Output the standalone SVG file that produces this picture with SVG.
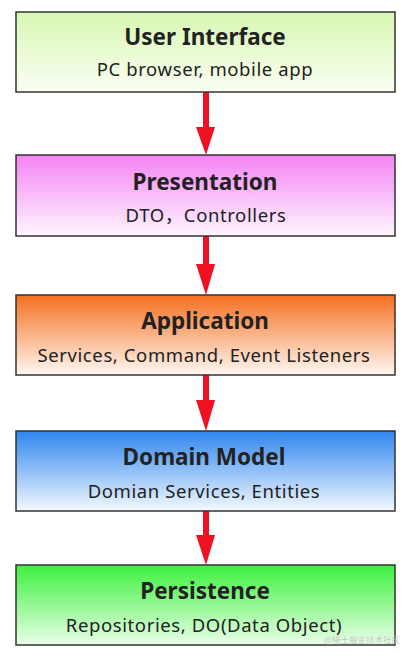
<svg xmlns="http://www.w3.org/2000/svg" width="413" height="656" viewBox="0 0 413 656">
<defs>
<linearGradient id="g1" x1="0" y1="0" x2="0" y2="1"><stop offset="0" stop-color="#d9f7b3"/><stop offset="1" stop-color="#f9fff2"/></linearGradient>
<linearGradient id="g2" x1="0" y1="0" x2="0" y2="1"><stop offset="0" stop-color="#f384f3"/><stop offset="1" stop-color="#fff6ff"/></linearGradient>
<linearGradient id="g3" x1="0" y1="0" x2="0" y2="1"><stop offset="0" stop-color="#f46f1f"/><stop offset="1" stop-color="#fff8f2"/></linearGradient>
<linearGradient id="g4" x1="0" y1="0" x2="0" y2="1"><stop offset="0" stop-color="#2f86ee"/><stop offset="1" stop-color="#f4f9ff"/></linearGradient>
<linearGradient id="g5" x1="0" y1="0" x2="0" y2="1"><stop offset="0" stop-color="#3ef03e"/><stop offset="1" stop-color="#eaffea"/></linearGradient>
</defs>
<style>
.box{stroke:#333;stroke-width:1.5}
.t{font-family:"Noto Sans","Liberation Sans",sans-serif;font-weight:bold;font-size:22.5px;fill:#222;text-anchor:middle}
.s{font-family:"Noto Sans","Noto Sans CJK SC","Liberation Sans",sans-serif;font-size:18.5px;letter-spacing:0.6px;fill:#222;text-anchor:middle}
.arr{fill:#ee1122}
.wm{font-family:"Noto Sans CJK SC","Noto Sans",sans-serif;font-size:8.5px;fill:#c8c8c8}
</style>
<rect width="413" height="656" fill="#fff"/>
<g id="connectors">
<path class="arr" d="M203 92H209V127H215L206 155L196 127H203Z"/>
<path class="arr" d="M203 236H209V264H215L206 295L196 264H203Z"/>
<path class="arr" d="M203 375H209V400H215L206 431L196 400H203Z"/>
<path class="arr" d="M203 511H209V535H215L206 565L196 535H203Z"/>
</g>
<g id="user-interface">
<rect class="box" x="16" y="12" width="379" height="80" fill="url(#g1)"/>
<text class="t" x="205" y="45">User Interface</text>
<text class="s" x="205" y="76">PC browser, mobile app</text>
</g>
<g id="presentation">
<rect class="box" x="16" y="155" width="379" height="81" fill="url(#g2)"/>
<text class="t" x="205" y="190">Presentation</text>
<text class="s" x="206" y="222">DTO<tspan font-family="Noto Sans CJK SC">，</tspan>Controllers</text>
</g>
<g id="application">
<rect class="box" x="16" y="295" width="379" height="80" fill="url(#g3)"/>
<text class="t" x="205" y="329">Application</text>
<text class="s" x="204" y="362">Services, Command, Event Listeners</text>
</g>
<g id="domain-model">
<rect class="box" x="16" y="431" width="379" height="80" fill="url(#g4)"/>
<text class="t" x="204" y="465">Domain Model</text>
<text class="s" x="204" y="498">Domian Services, Entities</text>
</g>
<g id="persistence">
<rect class="box" x="16" y="565" width="379" height="80" fill="url(#g5)"/>
<text class="t" x="205" y="599">Persistence</text>
<text class="s" x="204" y="632">Repositories, DO(Data Object)</text>
</g>
<text class="wm" x="324" y="643">@稀土掘金技术社区</text>
</svg>
